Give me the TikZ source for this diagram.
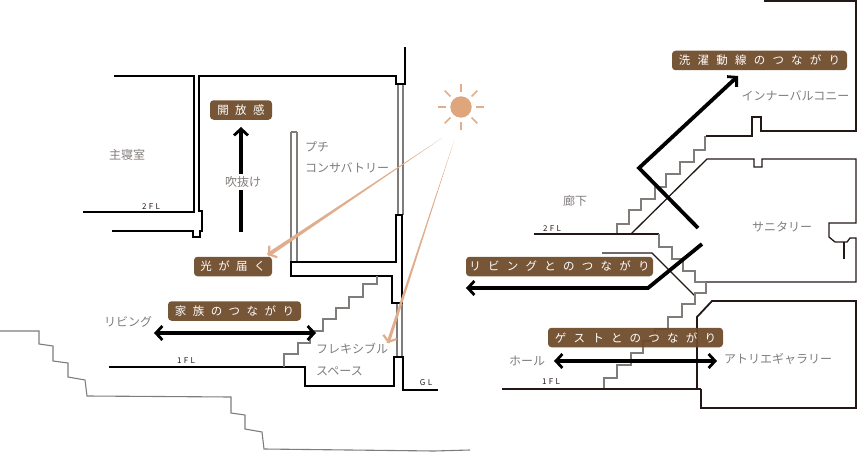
\documentclass[tikz,border=0pt]{standalone}
\usepackage{fontspec}
\setmainfont{Noto Sans CJK JP}
\usetikzlibrary{arrows.meta,calc}
\definecolor{tagbrown}{HTML}{6F4A2A}
\definecolor{lightarrow}{HTML}{E0AE8C}
\definecolor{sunorange}{HTML}{DFA57D}
\definecolor{wallgray}{HTML}{807C7A}
\definecolor{darkline}{HTML}{231815}
\tikzset{
    tag/.style={fill=tagbrown,fill opacity=.94,text opacity=1,text=white,rounded corners=3.5pt,inner sep=0pt,minimum height=19.5pt,font=\fontsize{11.5}{12}\selectfont\addfontfeature{LetterSpace=#1}},
    tag/.default=56,
    room/.style={text=wallgray,inner sep=0pt,font=\fontsize{12}{12}\selectfont},
    level/.style={text=darkline,inner sep=0pt,font=\fontsize{8}{8}\selectfont\addfontfeature{LetterSpace=30}},
    wall/.style={draw=black,line width=1.8pt},
    walldark/.style={draw=darkline,line width=1.8pt},
    stairs/.style={draw=wallgray,line width=1.3pt},
    glass/.style={draw=wallgray,line width=1.4pt},
    thinwall/.style={draw=darkline,line width=1.3pt},
    flow/.style={line width=3.8pt,-{Straight Barb[length=6.5pt,width=14pt,line width=2.8pt]}},
    flowboth/.style={line width=3.8pt,{Straight Barb[length=6.5pt,width=14pt,line width=2.8pt]}-{Straight Barb[length=6.5pt,width=14pt,line width=2.8pt]}},
    rayhead/.style={draw=lightarrow,line width=2pt,-{Straight Barb[length=5pt,width=14pt,line width=2.2pt]}}
}
\begin{document}
\begin{tikzpicture}[x=1pt,y=-1pt]
\useasboundingbox (0,0) rectangle (857,452);

% left section
\draw[glass] (398,84) -- (398,215);
\draw[glass] (403,84) -- (403,215);
\draw[glass] (291,132) -- (291,262);
\draw[glass] (297,132) -- (297,262);
\draw[glass] (291,132) -- (297,132);
\draw[glass] (397,303) -- (397,357);
\draw[glass] (402,303) -- (402,357);
\draw[wall] (114,76) -- (194,76) -- (194,212) -- (83,212);
\draw[wall] (112,231) -- (193,231) -- (193,237) -- (200,237) -- (200,231) -- (202,231) -- (202,211) -- (199,211) -- (199,76) -- (396,76) -- (396,84) -- (405,84) -- (405,47);
\draw[wall] (402,303) -- (402,215) -- (396,215) -- (396,262) -- (291,262) -- (291,276) -- (392,276) -- (392,303) -- cycle;
\draw[wall] (109,367) -- (305,367) -- (305,386) -- (394,386) -- (394,357) -- (403,357) -- (403,390) -- (438,390);
\draw[stairs] (284,367) -- (284,354) -- (298,354) -- (298,343) -- (310,343) -- (310,331) -- (323,331) -- (323,319) -- (336,319) -- (336,308) -- (349,308) -- (349,297) -- (363,297) -- (363,284) -- (377,284) -- (377,276);
\draw[wallgray,line width=1.1pt] (0,331) -- (39,331) -- (39,344) -- (53,346) -- (53,361) -- (68,363) -- (68,377) -- (85,380) -- (87,396) -- (231,397) -- (231,413) -- (245,415) -- (245,429) -- (262,432) -- (264,449) -- (434,451) -- (470,450);

% sun
\coordinate (sunc) at (461,107);
\fill[sunorange] (sunc) circle (10.7pt);
\foreach \a in {0,45,...,315}
    \draw[lightarrow,line width=1.5pt] ($(sunc)+(\a:15pt)$) -- ($(sunc)+(\a:23pt)$);

% right section
\draw[walldark] (764,1) -- (856,1) -- (856,131) -- (761,131) -- (761,117) -- (752,117) -- (752,136) -- (706,136);
\draw[stairs] (705,136) -- (705,150) -- (694,150) -- (694,162) -- (680,162) -- (680,174) -- (666,174) -- (666,187) -- (655,187) -- (655,199) -- (641,199) -- (641,210) -- (629,210) -- (629,224) -- (617,224) -- (617,234);
\draw[thinwall] (631,234) -- (707,159) -- (754,159) -- (754,167) -- (762,167) -- (762,159) -- (856,159) -- (856,223) -- (829,223) -- (829,237) -- (835,242) -- (847,242) -- (850,238) -- (856,238) -- (856,282) -- (706,282);
\draw[darkline,line width=1.8pt] (844,242) -- (844,259);
\draw[thinwall] (534,234) -- (659,234);
\draw[stairs] (659,234) -- (659,247) -- (672,247) -- (672,259) -- (683,259) -- (683,271) -- (695,271) -- (695,282) -- (706,282);
\draw[thinwall] (602,253) -- (652,253) -- (695,296);
\draw[stairs] (706,282) -- (706,293) -- (695,293) -- (695,304) -- (682,304) -- (682,317) -- (668,317) -- (668,329) -- (655,329) -- (655,341) -- (643,341) -- (643,353) -- (631,353) -- (631,365) -- (617,365) -- (617,378) -- (604,378) -- (604,389);
\draw[thinwall] (502,389) -- (701,389);
\draw[walldark] (697,389) -- (697,317) -- (712,301) -- (856,301) -- (856,408) -- (701,408) -- (701,389);

% light from the sun
\coordinate (rayas) at (442,138);
\coordinate (rayat) at (268,255);
\coordinate (raybs) at (454,141);
\coordinate (raybt) at (388,343);
\fill[lightarrow] (rayas) -- ($(rayat)!2pt!90:(rayas)$) -- ($(rayat)!2pt!-90:(rayas)$) -- cycle;
\fill[lightarrow] (raybs) -- ($(raybt)!1.6pt!90:(raybs)$) -- ($(raybt)!1.6pt!-90:(raybs)$) -- cycle;
\draw[rayhead] ($(rayat)!8pt!(rayas)$) -- (rayat);
\draw[rayhead] ($(raybt)!8pt!(raybs)$) -- (raybt);

% arrows
\coordinate (ventb) at (241,232);
\coordinate (ventt) at (241,127);
\coordinate (famil) at (154,333);
\coordinate (famir) at (316,333);
\coordinate (washa) at (698,228);
\coordinate (washb) at (639,168);
\coordinate (washc) at (738,76);
\coordinate (livea) at (702,244);
\coordinate (liveb) at (648,288);
\coordinate (livec) at (466,288);
\coordinate (guesl) at (554,361);
\coordinate (guesr) at (717,361);
\draw[flow] (ventb) -- (ventt);
\draw[flowboth] (famil) -- (famir);
\draw[flow] (washa) -- (washb) -- (washc);
\draw[flow] (livea) -- (liveb) -- (livec);
\draw[flowboth] (guesl) -- (guesr);

% tags
\node[tag,minimum width=62pt] (kaiho) at (241,110) {開放感};
\node[tag,minimum width=78pt] (hikari) at (233,266.5) {光が届く};
\node[tag,minimum width=133pt] (kazoku) at (234.5,311) {家族のつながり};
\node[tag=63,minimum width=175pt] (sentaku) at (759.5,60.5) {洗濯動線のつながり};
\node[tag=63,minimum width=187pt] (living) at (559.5,266.5) {リビングとのつながり};
\node[tag=63,minimum width=175pt] (guest) at (635.5,337.5) {ゲストとのつながり};

% labels
\node[room,fill=white,inner ysep=2pt] (fukinuke) at (243,182) {吹抜け};
\node[room] (shushin) at (127,155) {主寝室};
\node[room,anchor=west] (puchi) at (305,147) {プチ};
\node[room,anchor=west] (conserv) at (305,168) {コンサバトリー};
\node[room] (livingl) at (128,322) {リビング};
\node[room,anchor=west] (flex) at (316,349) {フレキシブル};
\node[room,anchor=west] (space) at (316,371) {スペース};
\node[room] (roka) at (575,201) {廊下};
\node[room] (inner) at (795.5,96) {インナーバルコニー};
\node[room] (sanitary) at (782,227) {サニタリー};
\node[room] (hall) at (527,361) {ホール};
\node[room] (atelier) at (778,359) {アトリエギャラリー};
\node[level] (fla) at (151,207) {2FL};
\node[level] (flb) at (186,361) {1FL};
\node[level] (glv) at (426,383) {GL};
\node[level] (flc) at (552,229) {2FL};
\node[level] (fld) at (551,382) {1FL};
\end{tikzpicture}
\end{document}
